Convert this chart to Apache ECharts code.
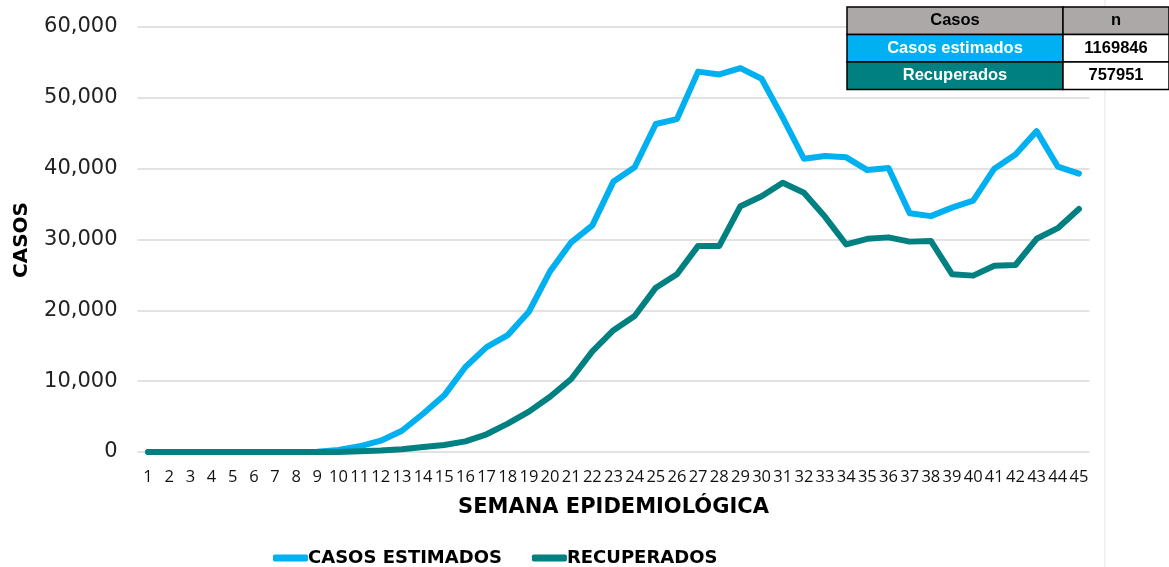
<!DOCTYPE html>
<html><head><meta charset="utf-8">
<script src="https://cdn.jsdelivr.net/npm/echarts@6/dist/echarts.min.js"></script>
<style>html,body{margin:0;padding:0;background:#fff}#c{width:1169px;height:567px}</style>
</head><body><div id="c"></div>
<script>
const weeks = Array.from({length:45},(_,i)=>String(i+1));
const casosEstimados = [0,0,0,0,0,0,0,0,50,300,800,1600,3000,5400,8000,12000,14800,16500,19800,25500,29600,32000,38200,40200,46300,47000,53700,53300,54200,52700,47200,41400,41800,41600,39800,40100,33700,33300,34500,35500,40000,42000,45300,40300,39300];
const recuperados = [0,0,0,0,0,0,0,0,0,0,100,200,400,700,1000,1500,2500,4000,5700,7800,10300,14200,17200,19200,23200,25100,29100,29100,34700,36100,38000,36600,33200,29300,30100,30300,29700,29800,25100,24900,26300,26400,30100,31600,34300];
const yTicks = [0,10000,20000,30000,40000,50000,60000];
const tableRows = [["Casos","n"],["Casos estimados","1169846"],["Recuperados","757951"]];
const seriesNames = ["CASOS ESTIMADOS","RECUPERADOS"];
const colors = ["#00b0f0","#008080"];

const chart = echarts.init(document.getElementById('c'));
const font = "DejaVu Sans";
const g = [];
g.push({type:'line',z:1,shape:{x1:1105,y1:0,x2:1105,y2:567},style:{stroke:'#e3e3e3',lineWidth:1}});
// table graphics
const tx = 847, ty = 7, tw = 322, rh = 27.5, c1 = 216;
const rowBg = ["#aca8a8","#00b0f0","#008080"];
const rowFg = ["#000","#fff","#fff"];
const tfont = 'bold 16.5px "Liberation Sans"';
tableRows.forEach((r,i)=>{
  const y = ty + i*rh;
  g.push({type:'rect',z:10,shape:{x:tx,y:y,width:c1,height:rh},style:{fill:rowBg[i],stroke:'#000',lineWidth:1.5}});
  g.push({type:'rect',z:10,shape:{x:tx+c1,y:y,width:tw-c1,height:rh},style:{fill:i===0?rowBg[0]:'#fff',stroke:'#000',lineWidth:1.5}});
  g.push({type:'text',z:11,x:tx+c1/2,y:y+rh/2,style:{text:r[0],fill:rowFg[i],font:tfont,textAlign:'center',textVerticalAlign:'middle'}});
  g.push({type:'text',z:11,x:tx+c1+(tw-c1)/2,y:y+rh/2,style:{text:r[1],fill:'#000',font:tfont,textAlign:'center',textVerticalAlign:'middle'}});
});
g.push({type:'text',x:22,y:240,rotation:Math.PI/2,style:{text:'CASOS',fill:'#000',font:'bold 20px "DejaVu Sans"',textAlign:'center',textVerticalAlign:'middle'}});

chart.setOption({
  animation:false,
  textStyle:{fontFamily:font},
  grid:{left:137.5,right:1169-1089.5,top:27,bottom:115,containLabel:false},
  legend:{
    top:544,left:268,itemGap:30,itemWidth:35,itemHeight:7,icon:'roundRect',
    data:seriesNames,
    textStyle:{fontSize:18,fontWeight:'bold',color:'#000',fontFamily:font,padding:[0,0,0,-5]}
  },
  xAxis:{
    type:'category',data:weeks,boundaryGap:true,
    name:'SEMANA EPIDEMIOLÓGICA',nameLocation:'middle',nameGap:45,
    nameTextStyle:{fontSize:21,fontWeight:'bold',color:'#000',fontFamily:font},
    axisLine:{show:false},axisTick:{show:false},
    axisLabel:{interval:0,fontSize:16.5,color:'#111',margin:17,fontFamily:"Open Sans"}
  },
  yAxis:{
    type:'value',min:0,max:60000,interval:10000,
    axisLine:{show:false},axisTick:{show:false},
    splitLine:{lineStyle:{color:'#d9d9d9',width:1.5}},
    axisLabel:{fontSize:21,color:'#222',margin:20,fontFamily:font,
      formatter:v=>yTicks.includes(v)?v.toLocaleString('en-US'):''}
  },
  series:[
    {name:seriesNames[0],type:'line',data:casosEstimados,symbol:'none',lineStyle:{width:6,color:colors[0],join:'round',cap:'round'},itemStyle:{color:colors[0]}},
    {name:seriesNames[1],type:'line',data:recuperados,symbol:'none',lineStyle:{width:6,color:colors[1],join:'round',cap:'round'},itemStyle:{color:colors[1]}}
  ],
  graphic:g
});
</script></body></html>
